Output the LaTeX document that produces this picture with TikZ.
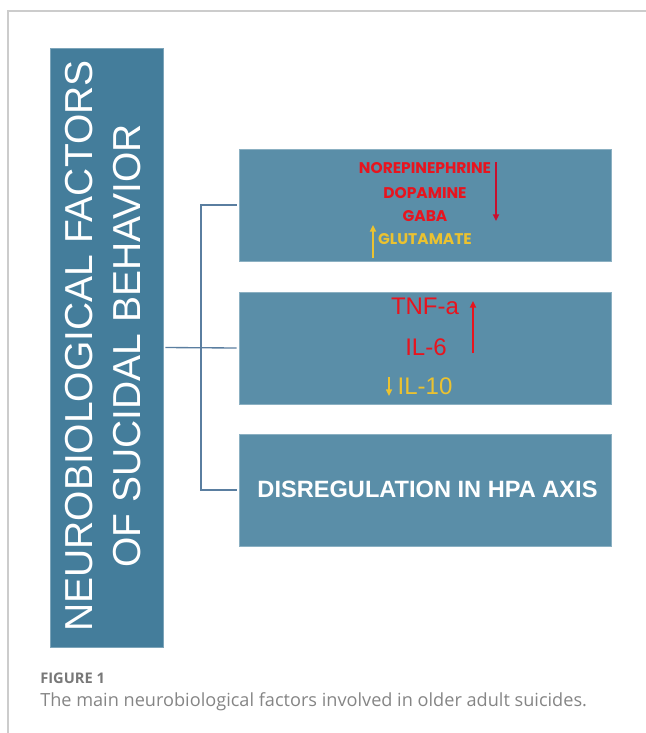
\documentclass[tikz,border=0pt]{standalone}
\usepackage{fontspec}
\setmainfont{Liberation Sans}
\newfontfamily\popfont{Poppins}
\newfontfamily\capfont{Open Sans}
\usetikzlibrary{arrows.meta}
\definecolor{leftblue}{HTML}{447D9B}
\definecolor{rightblue}{HTML}{5A8EA8}
\definecolor{linkc}{HTML}{5A7EA0}
\definecolor{framec}{HTML}{CCCCCC}
\definecolor{redtxt}{HTML}{E8141E}
\definecolor{redarr}{HTML}{C8102E}
\definecolor{yeltxt}{HTML}{EBC230}
\definecolor{capgrey}{HTML}{858585}
\tikzset{
  leftbox/.style={rectangle, fill=leftblue, draw=leftblue!70!white, line width=0.4pt,
    minimum width=84.75pt, minimum height=449.25pt, inner sep=0pt},
  rightbox/.style={rectangle, fill=rightblue, draw=rightblue!70!white, line width=0.4pt,
    minimum width=279pt, minimum height=84pt, inner sep=0pt},
  link/.style={draw=linkc, line width=1pt},
  uparrow/.style={line width=1.3pt, -{Triangle[width=4.5pt,length=5pt]}},
  poptxt/.style={font=\popfont\bfseries\fontsize{11.6}{13}\selectfont, inner sep=0pt},
  cytotxt/.style={font=\fontsize{18}{20}\selectfont, inner sep=0pt},
}
\begin{document}
\begin{tikzpicture}[x=0.75pt, y=-0.75pt]
\useasboundingbox (0,0) rectangle (646,733);
% frame
\draw[framec, line width=0.8pt] (646,11) -- (8,11) -- (8,733);
% left box
\node[leftbox] (lb) at (106.5,347.5) {};
\node[rotate=90, text=white, align=center, inner sep=0pt,
      font=\fontsize{29.25}{36}\selectfont] (title) at (103,346)
  {NEUROBIOLOGICAL FACTORS\\OF SUCIDAL BEHAVIOR};
% right boxes
\node[rightbox] (b1) at (425,205) {};
\node[rightbox] (b2) at (425,348) {};
\node[rightbox] (b3) at (425,490) {};
% connectors
\coordinate (jt) at (201,205);
\coordinate (jb) at (201,490);
\draw[link] ([xshift=1.5pt]lb.east) -- ([xshift=-1.5pt]b2.west);
\draw[link] ([xshift=-1.5pt]b1.west) -- (jt) -- (jb) -- ([xshift=-1.5pt]b3.west);
% box 1 contents
\node[poptxt, text=redtxt] (ne) at (425,168.5) {NOREPINEPHRINE};
\node[poptxt, text=redtxt] (da) at (425,193.5) {DOPAMINE};
\node[poptxt, text=redtxt] (ga) at (425,216) {GABA};
\node[poptxt, text=yeltxt] (gl) at (425,239) {GLUTAMATE};
\draw[uparrow, redarr] (496,162) -- (496,221);
\draw[uparrow, yeltxt] (373,258) -- (373,225);
% box 2 contents
\node[cytotxt, text=redtxt] (tnf) at (425,306.5) {TNF-a};
\node[cytotxt, text=redtxt] (il6) at (426,347) {IL-6};
\node[cytotxt, text=yeltxt] (il10) at (425,386) {IL-10};
\draw[uparrow, redtxt] (473,353) -- (473,301);
\draw[uparrow, yeltxt, line width=1pt] (389,377) -- (389,396);
% box 3 contents
\node[text=white, font=\bfseries\fontsize{17.7}{19}\selectfont, inner sep=0pt] (hpa) at (427.5,489)
  {DISREGULATION IN HPA AXIS};
% caption
\node[anchor=base west, inner sep=0pt, text=capgrey!90!black,
      font=\capfont\bfseries\fontsize{11}{13}\selectfont] (figlab) at (40,683) {FIGURE 1};
\node[anchor=base west, inner sep=0pt, text=capgrey,
      font=\capfont\fontsize{13.6}{16}\selectfont] (cap) at (40,706)
  {The main neurobiological factors involved in older adult suicides.};
\end{tikzpicture}
\end{document}
